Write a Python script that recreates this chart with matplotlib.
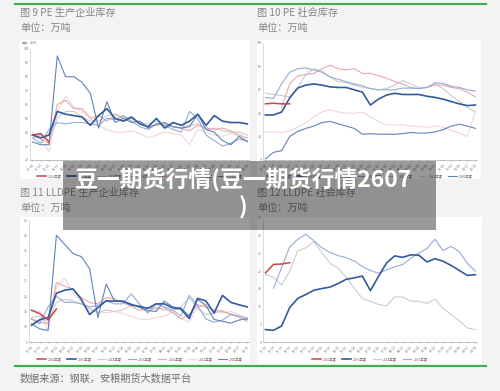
import numpy as np
import matplotlib
matplotlib.use("Agg")
import matplotlib.pyplot as plt
from matplotlib.patches import Rectangle
from matplotlib.lines import Line2D

plt.rcParams['font.family'] = ['Noto Sans CJK SC', 'DejaVu Sans']

W, H = 500, 391

# ---- data ----
years = ['2026年度', '2025年度', '2024年度', '2023年度', '2022年度', '2021年度', '2020年度']
weeks = [1, 3, 5, 7, 9, 11, 13, 15, 17, 19, 21, 23, 25, 27, 29, 31, 33, 35, 37, 39, 41, 43, 45, 47, 49, 51, 53]
week_labels = ['01-01', '01-15', '01-29', '02-12', '02-26', '03-12', '03-26', '04-09', '04-23',
               '05-07', '05-21', '06-04', '06-18', '07-02', '07-16', '07-30', '08-13', '08-27',
               '09-10', '09-24', '10-08', '10-22', '11-05', '11-19', '12-03', '12-17', '12-31']

# 图9 PE 生产企业库存
pe_prod_2026 = [38, 39, 33]
pe_prod_2025 = [38, 36, 38, 55, 53, 52, 51, 45, 52, 57, 50, 48, 51, 46, 44, 50, 43, 47, 45, 48, 53, 45, 52, 48, 47, 47, 46]
pe_prod_2024 = [36, 38, 34, 50, 55, 55, 51, 48, 48, 52, 53, 51, 50, 47, 46, 48, 45, 44, 43, 45, 46, 42, 43, 41, 40, 40, 38]
pe_prod_2023 = [36, 32, 42, 47, 46, 47, 47, 46, 45, 50, 49, 52, 48, 44, 42, 46, 45, 42, 40, 55, 50, 38, 34, 30, 32, 35, 34]
pe_prod_2022 = [38, 35, 32, 60, 63, 57, 57, 50, 52, 48, 53, 50, 50, 46, 44, 45, 46, 44, 43, 41, 45, 43, 42, 43, 41, 38, 36]
pe_prod_2021 = [40, 35, 26, 55, 66, 58, 55, 50, 45, 42, 40, 40, 41, 39, 36, 38, 40, 39, 38, 31, 42, 40, 38, 37, 39, 37, 34]
pe_prod_2020 = [33, 31, 31, 95, 80, 80, 76, 68, 43, 62, 47, 50, 47, 48, 43, 46, 47, 44, 43, 44, 53, 42, 40, 34, 31, 37, 33]

# 图10 PE 社会库存
pe_soc_2026 = [48, 48.5, 48, 48]
pe_soc_2025 = [38.4, 38.5, 41, 53, 61.5, 64, 65, 64, 62.5, 62, 62, 60, 58, 47, 52, 55.5, 57, 56, 56, 56, 54.5, 53.5, 52, 50, 48, 46.5, 47]
pe_soc_2024 = [57, 56, 55, 54, 62, 73, 78, 76, 71, 67, 66, 64, 62, 61, 60, 61, 64, 68, 65, 62, 62, 65, 61, 55, 50, 45, 41]
pe_soc_2023 = [53.5, 52.6, 65, 75, 78, 78.7, 77, 75, 71, 69, 67, 65, 63.5, 61, 60, 60, 60, 61.5, 61.5, 61, 62, 66, 65.5, 63, 62, 60, 59]
pe_soc_2022 = [None, None, 45, 65, 72, 73, 74, 78, 81, 78, 77, 78, 74, 74, 72, 70, 67, 65, 62, 61, 62, 64, 64, 62, 61, 58, 54]
pe_soc_2021 = [24, 24, 23.5, 25, 28, 32, 37, 41, 43, 41, 40, 40, 41, 37, 33, 30, 30, 30, 29, 28.5, 28, 29, 28, 25.5, 23, 20, 41]
pe_soc_2020 = [1, 6.5, 8, 20, 24.5, 27, 29, 32, 33, 31, 29, 27, 22, 22.5, 22, 22, 22, 22.5, 23.5, 23, 23, 24, 26, 29, 30.5, 29, 27]

# 图11 LLDPE 生产企业库存
ll_prod_2026 = [15.4, 14.3, 12.2, 15.8]
ll_prod_2025 = [10.5, 12.3, 13, 21, 22, 22.4, 19, 14, 16.3, 18.5, 18.4, 18.4, 17.2, 16.7, 16, 17.5, 17.5, 16.2, 15.8, 12.7, 19.3, 18.5, 14.5, 20.3, 18, 17.2, 16.5]
ll_prod_2024 = [13, 13.5, 11, 18, 19, 18.5, 17.5, 16, 14.5, 15.5, 15, 15.5, 17, 16.5, 14.8, 16.5, 15.5, 15.3, 16.5, 19.5, 16, 14, 14.5, 15.3, 14, 13.5, 13]
ll_prod_2023 = [12.5, 11, 16.5, 20, 18, 18, 17.5, 16.5, 17, 18.5, 17.5, 17.5, 20.8, 17.5, 14.5, 17.5, 16.5, 15.5, 13.5, 20.3, 17, 12.5, 11.5, 12.2, 14, 13.5, 12.5]
ll_prod_2022 = [12.6, 11.5, 11, 24.5, 23.3, 22.3, 19.5, 18, 17.5, 19.6, 19.2, 17.8, 16.8, 15.3, 16.2, 15.8, 16.2, 14.6, 12.6, 14, 17.2, 16.4, 15.5, 15, 14.2, 13, 11.8]
ll_prod_2021 = [15.5, 15, 8.5, 23, 26, 21, 18.2, 15.5, 14.8, 14.6, 15, 14.3, 13.5, 12.5, 12.4, 13, 13.5, 14.8, 12.6, 11.5, 16.5, 17.3, 15, 14.5, 15, 14, 12.4]
ll_prod_2020 = [11, 9.3, 8.8, 40, 37, 34, 33, 29, 13, 24, 18.4, 18.4, 17.5, 16.3, 15.3, 15, 18.4, 16.5, 16.2, 13.5, 19, 17, 12.4, 11.8, 11.2, 12.2, 12.6]

# 图12 LLDPE 社会库存
ll_soc_years = ['2026年度', '2025年度', '2024年度', '2023年度']
ll_soc_2026 = [19.5, 21.9, 22.0, 22.4]
ll_soc_2025 = [3.5, 3.3, 4.5, 9.7, 12.3, 13.4, 14.6, 15.1, 15.5, 16.5, 17.7, 18.1, 18.6, 14.5, 18.5, 22.3, 24.3, 23.9, 24.6, 24.5, 22.6, 23.5, 22.8, 21.6, 20.2, 18.8, 19]
ll_soc_2024 = [19, 18.3, 16.1, 20, 25.7, 26.6, 28.4, 25.2, 22.2, 20.8, 18.3, 15.2, 12.3, 11.5, 10.6, 10.2, 12.7, 12.7, 11.5, 11.5, 10.9, 12.1, 9.5, 7.7, 6, 4, 3.5]
ll_soc_2023 = [None, 15.2, 21, 26.8, 29, 30.4, 28.6, 26.6, 25.3, 24.4, 23.8, 22.9, 21.3, 20.2, 19.4, 20.4, 21.2, 21.9, 23.6, 25.1, 26.4, 29, 25.8, 27, 25.5, 22.2, 20]

# ---- styles ----
style = {
    '2026年度': dict(color='#c5474b', lw=1.1, z=9),
    '2025年度': dict(color='#335a9c', lw=1.2, z=8),
    '2024年度': dict(color='#cccccc', lw=0.8, z=3),
    '2023年度': dict(color='#93add8', lw=0.8, z=5),
    '2022年度': dict(color='#e9a8ad', lw=0.8, z=4),
    '2021年度': dict(color='#f2d6d6', lw=0.8, z=2),
    '2020年度': dict(color='#6282bb', lw=0.8, z=6),
}

fig = plt.figure(figsize=(W / 100, H / 100), dpi=100)
fig.patch.set_facecolor('#f3f3f3')


def fx(x):
    return x / W


def fy(y):
    return 1 - y / H


def white_box(x0, y0, x1, y1):
    fig.patches.append(Rectangle((fx(x0), fy(y1)), fx(x1 - x0), (y1 - y0) / H,
                                 transform=fig.transFigure, facecolor='white',
                                 edgecolor='none', zorder=-1))


def panel(x0, y0, x1, y1, names, series, ylim, yticks, leg_x, leg_y):
    ax = fig.add_axes([fx(x0), fy(y1), fx(x1 - x0), (y1 - y0) / H])
    ax.set_facecolor('none')
    for name, vals in zip(names, series):
        v = np.array(vals, dtype=float)
        s = style[name]
        ax.plot(weeks[:len(v)], v, color=s['color'], lw=s['lw'], zorder=s['z'], label=name)
    ax.set_xlim(0.4, 53.4)
    ax.set_ylim(*ylim)
    ax.set_yticks(yticks)
    ax.set_xticks(weeks)
    ax.set_xticklabels(week_labels, rotation=45, ha='right', rotation_mode='anchor')
    ax.tick_params(axis='both', labelsize=2.4, colors='#777777', length=1, width=0.4, pad=1)
    ax.tick_params(axis='y', length=0)
    for sp in ['top', 'right']:
        ax.spines[sp].set_visible(False)
    ax.spines['left'].set_color('#cccccc')
    ax.spines['left'].set_linewidth(0.5)
    ax.spines['bottom'].set_color('#b5b5b5')
    ax.spines['bottom'].set_linewidth(0.6)
    ax.legend(loc='center', bbox_to_anchor=(fx(leg_x), fy(leg_y)), bbox_transform=fig.transFigure,
              ncol=len(names), frameon=False, fontsize=2.4, handlelength=2.6,
              columnspacing=1.6, handletextpad=0.6, borderpad=0.1, labelcolor='#666666')
    return ax


# panel backgrounds
white_box(20, 40, 250, 179)
white_box(257, 40, 481, 179)
white_box(20, 217, 250, 364)
white_box(257, 217, 482, 364)

# green rules
fig.add_artist(Line2D([fx(15), fx(486)], [fy(3.8), fy(3.8)], color='#3db04d', lw=1.5,
                      transform=fig.transFigure))
fig.add_artist(Line2D([fx(15), fx(486)], [fy(366), fy(366)], color='#3db04d', lw=1.5,
                      transform=fig.transFigure))

# titles
title_kw = dict(fontsize=7.3, color='#858585', va='center', ha='left')
fig.text(fx(20), fy(13), '图 9 PE 生产企业库存', **title_kw)
fig.text(fx(20), fy(28), '单位：万吨', **title_kw)
fig.text(fx(257), fy(13), '图 10 PE 社会库存', **title_kw)
fig.text(fx(257), fy(28), '单位：万吨', **title_kw)
fig.text(fx(20), fy(193), '图 11 LLDPE 生产企业库存', **title_kw)
fig.text(fx(20), fy(208), '单位：万吨', **title_kw)
fig.text(fx(257), fy(193), '图 12 LLDPE 社会库存', **title_kw)
fig.text(fx(257), fy(208), '单位：万吨', **title_kw)
fig.text(fx(20), fy(379), '数据来源：钢联，安粮期货大数据平台', fontsize=7.3, color='#707070',
         va='center', ha='left')
fig.text(fx(22), fy(43), '单位：万吨', fontsize=2.2, color='#888888', va='center', ha='left')

panel(30, 49, 249, 160, years,
      [pe_prod_2026, pe_prod_2025, pe_prod_2024, pe_prod_2023, pe_prod_2022, pe_prod_2021, pe_prod_2020],
      (20, 100), range(20, 101, 10), 140, 176)
panel(263, 43, 477, 160, years,
      [pe_soc_2026, pe_soc_2025, pe_soc_2024, pe_soc_2023, pe_soc_2022, pe_soc_2021, pe_soc_2020],
      (0, 100), range(0, 101, 20), 370, 176)
panel(29, 220, 249, 342, years,
      [ll_prod_2026, ll_prod_2025, ll_prod_2024, ll_prod_2023, ll_prod_2022, ll_prod_2021, ll_prod_2020],
      (5, 45), range(5, 46, 5), 140, 359)
panel(263, 218, 477, 342, ll_soc_years,
      [ll_soc_2026, ll_soc_2025, ll_soc_2024, ll_soc_2023],
      (0, 35), range(0, 36, 5), 370, 359)

# overlay banner
fig.patches.append(Rectangle((fx(63), fy(230)), fx(436 - 63), (230 - 161) / H,
                             transform=fig.transFigure, facecolor='black', alpha=0.4,
                             edgecolor='none', zorder=10))
fig.text(fx(243), fy(194), '豆一期货行情(豆一期货行情2607\n)', fontsize=16.5, color='white',
         fontweight='bold', ha='center', va='center', multialignment='center',
         linespacing=1.2, zorder=11)

fig.savefig('out.png', dpi=100, facecolor=fig.get_facecolor())
